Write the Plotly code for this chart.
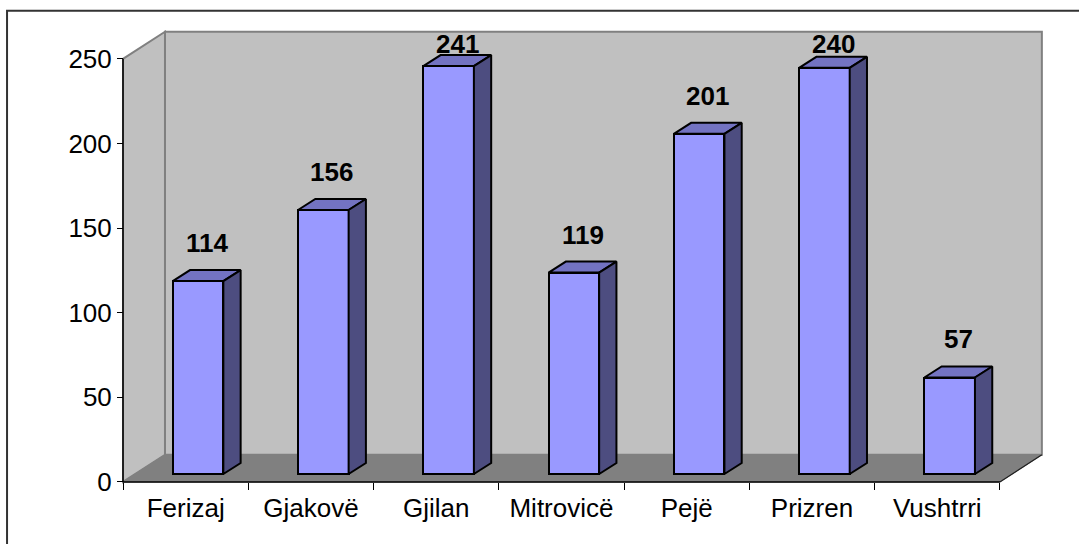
import plotly.graph_objects as go

# ---- data ----
categories = ["Ferizaj", "Gjakovë", "Gjilan", "Mitrovicë", "Pejë", "Prizren", "Vushtrri"]
values = [114, 156, 241, 119, 201, 240, 57]
y_ticks = [0, 50, 100, 150, 200, 250]

# ---- geometry (in axis units) ----
n = len(categories)
YMAX = 250
DX, DY = 0.335, 16.0          # depth of the 3-D walls
OX, OY = 0.099, 4.7           # bar front-plane offset inside the depth
BW = 0.404                    # bar width
BDX, BDY = 0.138, 6.5         # bar depth

W, H = 1079, 544
SX, SY = 125.3, 1.692         # px per unit
X0, X1 = -0.04, 7.4
Y0, Y1 = -3.0, 270.0
plotW = (X1 - X0) * SX
plotH = (Y1 - Y0) * SY
ml = 123 - (0 - X0) * SX
mb = H - 482 - (0 - Y0) * SY
mr = W - ml - plotW
mt = H - mb - plotH

def px2paper_x(px):
    return (px - ml) / plotW

def px2paper_y(py):
    return (H - mb - py) / plotH

FONT = "Liberation Sans, Arial, sans-serif"

fig = go.Figure()

# bar front faces
xc = [i + 0.5 + OX for i in range(n)]
fig.add_trace(go.Bar(
    x=xc, y=values, base=[OY] * n, width=BW,
    marker=dict(color="#9999FF", line=dict(color="black", width=2)),
    hoverinfo="skip", showlegend=False,
))

# top and side faces
tx, ty, sx_, sy_ = [], [], [], []
for c, v in zip(xc, values):
    xl, xr = c - BW / 2, c + BW / 2
    top = OY + v
    tx += [xl, xl + BDX, xr + BDX, xr, xl, None]
    ty += [top, top + BDY, top + BDY, top, top, None]
    sx_ += [xr, xr + BDX, xr + BDX, xr, xr, None]
    sy_ += [OY, OY + BDY, top + BDY, top, OY, None]
fig.add_trace(go.Scatter(x=tx, y=ty, mode="lines", fill="toself",
                         fillcolor="#7373C2", line=dict(color="black", width=2),
                         hoverinfo="skip", showlegend=False))
fig.add_trace(go.Scatter(x=sx_, y=sy_, mode="lines", fill="toself",
                         fillcolor="#4D4D80", line=dict(color="black", width=2),
                         hoverinfo="skip", showlegend=False))

# walls
shapes = []
shapes.append(dict(type="path", xref="x", yref="y", layer="below",
                   path=f"M {DX} {DY} L {DX} {YMAX+DY} L {n+DX} {YMAX+DY} L {n+DX} {DY} Z",
                   fillcolor="#C0C0C0", line=dict(color="#808080", width=2)))
shapes.append(dict(type="path", xref="x", yref="y", layer="below",
                   path=f"M 0 0 L 0 {YMAX} L {DX} {YMAX+DY} L {DX} {DY} Z",
                   fillcolor="#C0C0C0", line=dict(color="#808080", width=2)))
shapes.append(dict(type="path", xref="x", yref="y", layer="below",
                   path=f"M 0 0 L {n} 0 L {n+DX} {DY} L {DX} {DY} Z",
                   fillcolor="#808080", line=dict(color="#808080", width=1)))
shapes.append(dict(type="line", xref="x", yref="y", layer="below",
                   x0=n, y0=0, x1=n + DX, y1=DY, line=dict(color="#202020", width=1.2)))
# axis lines
shapes.append(dict(type="line", xref="x", yref="y", layer="above",
                   x0=0, y0=0, x1=0, y1=YMAX, line=dict(color="black", width=1.5)))
shapes.append(dict(type="line", xref="x", yref="y", layer="above",
                   x0=0, y0=0, x1=n, y1=0, line=dict(color="black", width=1.5)))
# outer border (only left & top visible)
shapes.append(dict(type="rect", xref="paper", yref="paper",
                   x0=px2paper_x(7), x1=px2paper_x(1100),
                   y0=px2paper_y(570), y1=px2paper_y(11),
                   line=dict(color="#333333", width=2), fillcolor="rgba(0,0,0,0)"))

# data labels
annotations = []
for c, v in zip(xc, values):
    ly = min(OY + v + BDY + 16, 259)
    annotations.append(dict(x=c + BDX / 2, y=ly, xref="x", yref="y", text=f"<b>{v}</b>",
                            showarrow=False, yanchor="middle", xanchor="center",
                            font=dict(family=FONT, size=26, color="black")))

fig.update_layout(
    width=W, height=H,
    margin=dict(l=ml, r=mr, t=mt, b=mb, pad=0),
    paper_bgcolor="white", plot_bgcolor="white",
    shapes=shapes, annotations=annotations,
    bargap=0, showlegend=False,
    font=dict(family=FONT, size=26, color="black"),
    xaxis=dict(range=[X0, X1], showgrid=False, zeroline=False, showline=False,
               tickmode="array", tickvals=[i + 0.5 for i in range(n)], ticktext=categories,
               ticks="outside", ticklen=3, tickcolor="rgba(0,0,0,0)",
               anchor="free", position=(0 - Y0) / (Y1 - Y0),
               tickfont=dict(family=FONT, size=26, color="black"),
               minor=dict(tickmode="array", tickvals=list(range(n + 1)), ticks="outside",
                          ticklen=7, tickcolor="black", tickwidth=1, showgrid=False)),
    yaxis=dict(range=[Y0, Y1], showgrid=False, zeroline=False, showline=False,
               tickmode="array", tickvals=y_ticks, ticks="outside", ticklen=6,
               tickcolor="black", tickwidth=1, anchor="free",
               position=(0 - X0) / (X1 - X0),
               tickfont=dict(family=FONT, size=26, color="black")),
)

fig.write_html("out.html", config={"displayModeBar": False},
               post_script="document.body.style.margin='0';")
